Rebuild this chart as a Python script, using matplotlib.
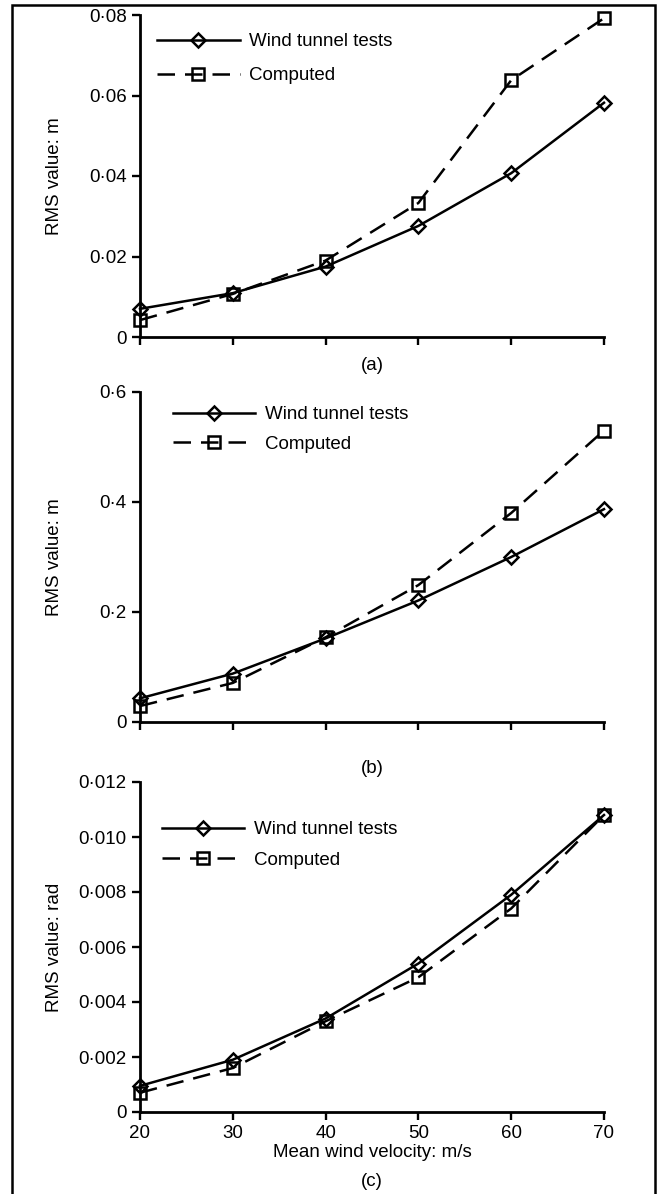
import numpy as np
import matplotlib
matplotlib.use('Agg')
import matplotlib.pyplot as plt
from matplotlib.patches import Rectangle
from matplotlib.ticker import FuncFormatter

plt.rcParams['font.family'] = ['Liberation Sans', 'DejaVu Sans']
plt.rcParams['font.size'] = 13.5

# wind velocity, m/s
velocity = [20, 30, 40, 50, 60, 70]

# (a) RMS value, m
tunnel_a = [0.0070, 0.0109, 0.0175, 0.0276, 0.0407, 0.0582]
computed_a = [0.0042, 0.0107, 0.0190, 0.0333, 0.0638, 0.0792]

# (b) RMS value, m
tunnel_b = [0.043, 0.088, 0.152, 0.221, 0.300, 0.387]
computed_b = [0.029, 0.071, 0.154, 0.249, 0.380, 0.530]

# (c) RMS value, rad
tunnel_c = [0.00095, 0.0019, 0.0034, 0.0054, 0.0079, 0.0108]
computed_c = [0.0007, 0.0016, 0.0033, 0.0049, 0.0074, 0.0108]

yticks_a = [0, 0.02, 0.04, 0.06, 0.08]
yticks_b = [0, 0.2, 0.4, 0.6]
yticks_c = [0, 0.002, 0.004, 0.006, 0.008, 0.010, 0.012]

W, H = 661, 1194
fs = 13.5
fig = plt.figure(figsize=(W / 100, H / 100), dpi=100)

# border round the whole figure (bottom edge runs off the page)
fig.add_artist(Rectangle((12 / W, -0.01), (655 - 12) / W, (H - 5) / H + 0.01,
                         transform=fig.transFigure, fill=False,
                         edgecolor='black', linewidth=1.8))


def make_axes(top, bottom):
    return fig.add_axes([140 / W, (H - bottom) / H, (604 - 140) / W, (bottom - top) / H])


def fmt(decimals):
    def f(v, pos):
        if v == 0:
            return '0'
        return ('%.*f' % (decimals, v)).replace('.', '\u00b7')
    return FuncFormatter(f)


panels = [
    (make_axes(15, 337), tunnel_a, computed_a, yticks_a, 2, 'RMS value: m', '(a)',
     (0.037, 0.943), 0.90),
    (make_axes(392, 722), tunnel_b, computed_b, yticks_b, 1, 'RMS value: m', '(b)',
     (0.071, 0.957), 0.66),
    (make_axes(782, 1112), tunnel_c, computed_c, yticks_c, 3, 'RMS value: rad', '(c)',
     (0.047, 0.882), 0.71),
]

for i, (ax, tun, comp, yt, dec, ylab, tag, anchor, spacing) in enumerate(panels):
    ax.plot(velocity, tun, color='black', lw=1.8, marker='D', ms=6.8,
            mfc='none', mec='black', mew=1.8, clip_on=False, zorder=3,
            label='Wind tunnel tests')
    ax.plot(velocity, comp, color='black', lw=1.8, ls=(0, (7, 4)), marker='s', ms=8.5,
            mfc='none', mec='black', mew=1.8, clip_on=False, zorder=3,
            label='Computed')
    ax.set_xlim(20, 70)
    ax.set_ylim(yt[0], yt[-1])
    ax.set_xticks(velocity)
    ax.set_yticks(yt)
    ax.yaxis.set_major_formatter(fmt(dec))
    for s in ['top', 'right']:
        ax.spines[s].set_visible(False)
    for s in ['left', 'bottom']:
        ax.spines[s].set_linewidth(2.0)
    ax.tick_params(direction='out', length=5.5, width=1.7, labelsize=fs, pad=4)
    ax.set_ylabel(ylab, fontsize=fs)
    ax.yaxis.set_label_coords(-0.166, 0.5)
    if i < 2:
        ax.tick_params(axis='x', labelbottom=False)
        ax.text(0.5, -0.087 if i == 0 else -0.14, tag, transform=ax.transAxes,
                ha='center', va='center', fontsize=fs)
    else:
        ax.set_xlabel('Mean wind velocity: m/s', fontsize=fs, labelpad=1)
        ax.text(0.5, -0.212, tag, transform=ax.transAxes,
                ha='center', va='center', fontsize=fs)
    ax.legend(loc='upper left', bbox_to_anchor=anchor, frameon=False,
              handlelength=4.4, handletextpad=0.5, borderpad=0, borderaxespad=0,
              labelspacing=spacing, fontsize=fs)

fig.savefig('out.png', dpi=100)
